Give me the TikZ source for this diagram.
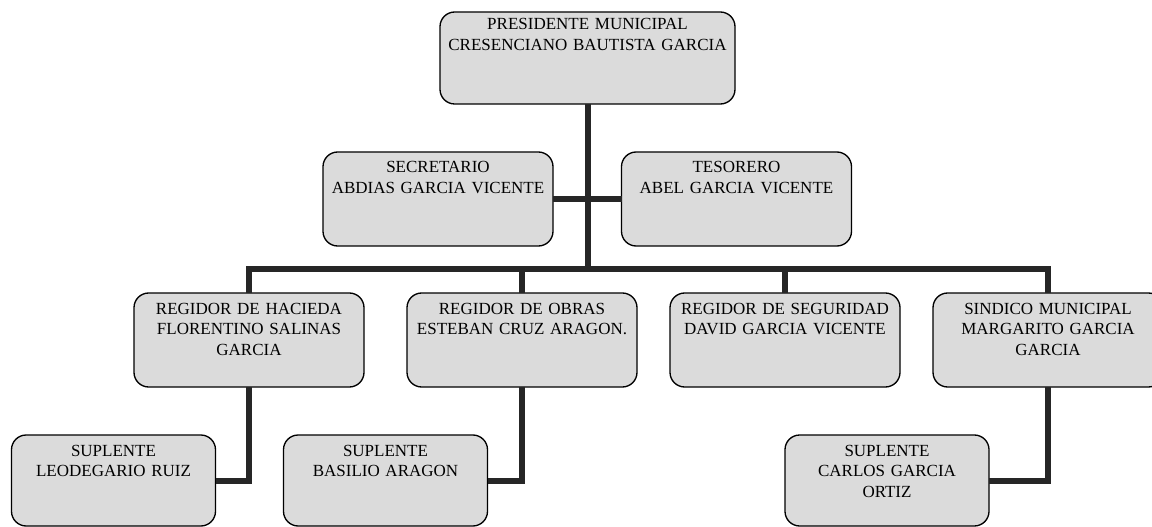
\documentclass[tikz,border=0pt]{standalone}
\usepackage{fontspec}
\setmainfont{Liberation Serif}
\definecolor{cajagris}{HTML}{DBDBDB}
\definecolor{lineagris}{HTML}{262626}

\begin{document}
\begin{tikzpicture}[x=0.75pt, y=-0.75pt,
    caja/.style={draw=black, line width=1pt, fill=cajagris, rounded corners=11pt,
      inner xsep=0pt, inner ysep=0pt, outer sep=0pt, align=center, anchor=north,
      text width=172.5pt, text height=15.75pt, text depth=54.75pt,
      font=\fontsize{12.75pt}{15.5pt}\selectfont},
    cajatop/.style={caja, text width=221.25pt, text height=13.5pt, text depth=55.5pt},
    cajasup/.style={caja, text width=153pt, text depth=52.5pt},
    linea/.style={draw=lineagris, line width=4.5pt}]
          \clip (0,0) rectangle (1152,527);
          \node[cajatop] (pres) at (587.5,12) {PRESIDENTE MUNICIPAL\\CRESENCIANO BAUTISTA GARCIA};
          \node[caja] (sec) at (438,152) {SECRETARIO\\ABDIAS GARCIA VICENTE};
          \node[caja] (tes) at (736.5,152) {TESORERO\\ABEL GARCIA VICENTE};
          \node[caja] (hac) at (249,293) {REGIDOR DE HACIEDA\\FLORENTINO SALINAS\\GARCIA};
          \node[caja] (obr) at (522,293) {REGIDOR DE OBRAS\\ESTEBAN CRUZ ARAGON.};
          \node[caja] (seg) at (785,293) {REGIDOR DE SEGURIDAD\\DAVID GARCIA VICENTE};
          \node[caja] (sin) at (1048,293) {SINDICO MUNICIPAL\\MARGARITO GARCIA\\GARCIA};
          \node[cajasup] (leo) at (113.5,435) {SUPLENTE\\LEODEGARIO RUIZ};
          \node[cajasup] (bas) at (385.5,435) {SUPLENTE\\BASILIO ARAGON};
          \node[cajasup] (car) at (887,435) {SUPLENTE\\CARLOS GARCIA\\ORTIZ};
          \coordinate (barra) at (0,269);
          \draw[linea] (pres.south) -- (pres.south |- barra);
          \draw[linea] (sec.east) -- (tes.west);
          \draw[linea] (hac.north) -- (hac.north |- barra) -- (sin.north |- barra) -- (sin.north);
          \draw[linea] (obr.north) -- (obr.north |- barra);
          \draw[linea] (seg.north) -- (seg.north |- barra);
          \draw[linea] (hac.south) |- (leo.east);
          \draw[linea] (obr.south) |- (bas.east);
          \draw[linea] (sin.south) |- (car.east);
        \end{tikzpicture}
\end{document}
